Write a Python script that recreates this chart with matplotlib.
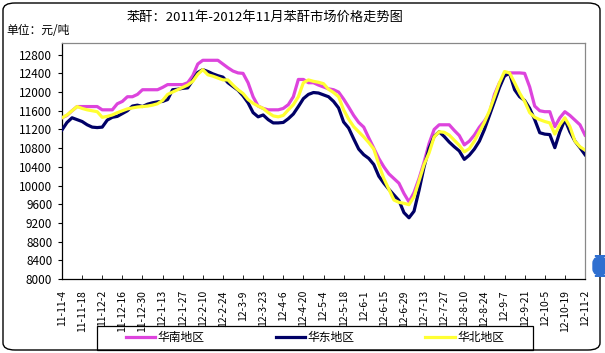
import matplotlib
matplotlib.use("Agg")
import matplotlib.pyplot as plt
from matplotlib.patches import FancyBboxPatch, Rectangle
import numpy as np

plt.rcParams['font.family'] = ['Noto Sans CJK SC', 'DejaVu Sans']

title = "苯酐：2011年-2012年11月苯酐市场价格走势图"
unit_label = "单位：元/吨"
series_names = ["华南地区", "华东地区", "华北地区"]

# dates every two weeks (tick labels); data sampled every half week
xlabels = ['11-11-4', '11-11-18', '11-12-2', '11-12-16', '11-12-30', '12-1-13',
           '12-1-27', '12-2-10', '12-2-24', '12-3-9', '12-3-23', '12-4-6',
           '12-4-20', '12-5-4', '12-5-18', '12-6-1', '12-6-15', '12-6-29',
           '12-7-13', '12-7-27', '12-8-10', '12-8-24', '12-9-7', '12-9-21',
           '12-10-5', '12-10-19', '12-11-2']

south = [11450, 11500, 11600, 11690, 11690, 11690, 11690, 11690, 11620, 11620,
         11620, 11750, 11800, 11900, 11900, 11950, 12050, 12050, 12050, 12050,
         12100, 12160, 12160, 12160, 12160, 12200, 12350, 12600, 12680, 12680,
         12680, 12680, 12600, 12520, 12450, 12410, 12400, 12200, 11900, 11700,
         11650, 11620, 11620, 11620, 11650, 11730, 11900, 12270, 12270, 12200,
         12200, 12150, 12110, 12070, 12050, 12000, 11850, 11680, 11500, 11350,
         11250, 11020, 10800, 10580, 10400, 10250, 10150, 10050, 9830, 9650,
         9850, 10150, 10500, 10900, 11200, 11300, 11300, 11300, 11180, 11070,
         10870, 10950, 11080, 11250, 11380, 11550, 11950, 12200, 12340, 12410,
         12410, 12410, 12400, 12110, 11700, 11600, 11580, 11580, 11260, 11450,
         11580, 11500, 11400, 11300, 11080]

east = [11190, 11350, 11450, 11410, 11370, 11300, 11250, 11240, 11250, 11400,
        11460, 11480, 11540, 11600, 11700, 11720, 11690, 11740, 11770, 11790,
        11800, 11840, 12050, 12060, 12080, 12090, 12250, 12420, 12480, 12440,
        12390, 12350, 12320, 12200, 12120, 12040, 11920, 11770, 11560, 11470,
        11510, 11410, 11340, 11340, 11350, 11430, 11530, 11690, 11860, 11950,
        11990, 11980, 11940, 11900, 11800, 11660, 11360, 11230, 11000, 10780,
        10660, 10580, 10450, 10200, 10050, 9920, 9800, 9680, 9420, 9310,
        9450, 9900, 10400, 10800, 11050, 11150, 11050, 10930, 10830, 10740,
        10560, 10650, 10780, 10950, 11200, 11500, 11800, 12100, 12350, 12400,
        12050, 11900, 11820, 11650, 11410, 11130, 11100, 11090, 10810, 11150,
        11410, 11150, 10950, 10810, 10660]

north = [11450, 11510, 11600, 11690, 11650, 11620, 11600, 11580, 11460, 11480,
         11510, 11560, 11600, 11640, 11660, 11680, 11690, 11700, 11720, 11750,
         11820, 11950, 12000, 12050, 12100, 12150, 12230, 12380, 12480, 12370,
         12340, 12300, 12260, 12260, 12150, 12050, 11970, 11840, 11760, 11700,
         11650, 11560, 11490, 11470, 11500, 11620, 11730, 11900, 12200, 12260,
         12230, 12210, 12180, 12060, 11990, 11900, 11620, 11420, 11260, 11150,
         11040, 10920, 10780, 10450, 10150, 9920, 9690, 9640, 9620, 9590,
         9760, 10100, 10450, 10700, 11040, 11150, 11140, 11080, 10970, 10860,
         10720, 10790, 10950, 11150, 11350, 11600, 11900, 12200, 12440, 12410,
         12200, 11980, 11800, 11560, 11460, 11410, 11370, 11340, 11100, 11300,
         11450, 11260, 10950, 10830, 10760]

yticks = list(range(8000, 12801, 400))

W, H = 605, 353
fig = plt.figure(figsize=(W / 100, H / 100), dpi=100)

# outer rounded border
fig.patches.append(FancyBboxPatch((3 / W, 3 / H), 597 / W, 347 / H,
                                  boxstyle="round,pad=0,rounding_size=0.02",
                                  transform=fig.transFigure, fill=False,
                                  edgecolor='black', linewidth=1.0))
# small blue decoration at right
fig.patches.append(FancyBboxPatch((593 / W, 1 - 276 / H), 14 / W, 20 / H,
                                  boxstyle="round,pad=0,rounding_size=0.02",
                                  transform=fig.transFigure, facecolor='#2f6fd0',
                                  edgecolor='#2f6fd0'))

ax = fig.add_axes([62 / W, 1 - 279 / H, (585 - 62) / W, (279 - 43) / H])

x = np.arange(len(south))
ax.plot(x, south, color='#dd44dd', lw=2.3, label=series_names[0], zorder=3)
ax.plot(x, east, color='#000066', lw=2.3, label=series_names[1], zorder=4)
ax.plot(x, north, color='#ffff33', lw=2.3, label=series_names[2], zorder=5)

ax.set_xlim(0, len(south) - 1)
ax.set_ylim(8000, 13050)
ax.set_yticks(yticks)
ax.set_yticklabels([str(v) for v in yticks])
ax.set_xticks(np.arange(0, len(south), 4))
ax.set_xticklabels(xlabels, rotation=90)

ax.tick_params(axis='y', direction='out', length=3, width=0.8, pad=4,
               labelsize=8.5, colors='black')
ax.tick_params(axis='x', direction='in', length=3, width=0.6, pad=8,
               labelsize=7.5, colors='black')
for s in ['left', 'bottom']:
    ax.spines[s].set_color('black')
    ax.spines[s].set_linewidth(0.9)
for s in ['top', 'right']:
    ax.spines[s].set_color('#888888')
    ax.spines[s].set_linewidth(0.9)

fig.text(265 / W, 1 - 17 / H, title, ha='center', va='center', fontsize=9.5)
fig.text(6 / W, 1 - 31 / H, unit_label, ha='left', va='center', fontsize=8.5)

# legend frame and legend
fig.patches.append(Rectangle((97 / W, 1 - 350 / H), 436 / W, 24 / H,
                             transform=fig.transFigure, fill=False,
                             edgecolor='black', linewidth=0.9))
leg = fig.legend(loc='center', bbox_to_anchor=(315 / W, 1 - 338 / H), ncol=3,
                 frameon=False, fontsize=8.5, handlelength=2.5,
                 handletextpad=0.2, columnspacing=6.0)

fig.savefig('out.png', dpi=100)
